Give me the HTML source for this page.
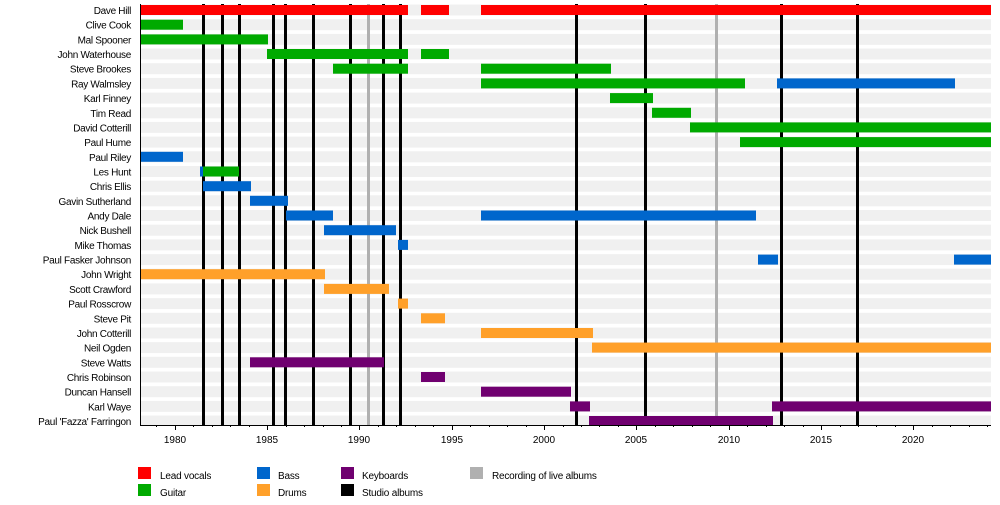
<!DOCTYPE html>
<html><head><meta charset="utf-8"><style>
html,body{margin:0;padding:0;background:#fff;width:1000px;height:505px;overflow:hidden}
svg{display:block;font-family:"Liberation Sans",sans-serif}
</style></head><body>
<svg width="1000" height="505" viewBox="0 0 1000 505" xmlns="http://www.w3.org/2000/svg">
<g fill="#f0f0f0">
<rect x="140" y="4.5" width="851" height="11"/><rect x="140" y="19.2" width="851" height="11"/><rect x="140" y="33.9" width="851" height="11"/><rect x="140" y="48.5" width="851" height="11"/><rect x="140" y="63.2" width="851" height="11"/><rect x="140" y="77.9" width="851" height="11"/><rect x="140" y="92.6" width="851" height="11"/><rect x="140" y="107.3" width="851" height="11"/><rect x="140" y="121.9" width="851" height="11"/><rect x="140" y="136.6" width="851" height="11"/><rect x="140" y="151.3" width="851" height="11"/><rect x="140" y="166" width="851" height="11"/><rect x="140" y="180.7" width="851" height="11"/><rect x="140" y="195.3" width="851" height="11"/><rect x="140" y="210" width="851" height="11"/><rect x="140" y="224.7" width="851" height="11"/><rect x="140" y="239.4" width="851" height="11"/><rect x="140" y="254.1" width="851" height="11"/><rect x="140" y="268.7" width="851" height="11"/><rect x="140" y="283.4" width="851" height="11"/><rect x="140" y="298.1" width="851" height="11"/><rect x="140" y="312.8" width="851" height="11"/><rect x="140" y="327.5" width="851" height="11"/><rect x="140" y="342.1" width="851" height="11"/><rect x="140" y="356.8" width="851" height="11"/><rect x="140" y="371.5" width="851" height="11"/><rect x="140" y="386.2" width="851" height="11"/><rect x="140" y="400.9" width="851" height="11"/><rect x="140" y="415.5" width="851" height="10"/>
</g>
<g stroke="#b0b0b0" stroke-width="3"><line x1="368.5" y1="4" x2="368.5" y2="425"/><line x1="716.5" y1="4" x2="716.5" y2="425"/></g>
<g stroke="#000" stroke-width="3">
<line x1="203.5" y1="4" x2="203.5" y2="425"/><line x1="222.5" y1="4" x2="222.5" y2="425"/><line x1="239.5" y1="4" x2="239.5" y2="425"/><line x1="273.5" y1="4" x2="273.5" y2="425"/><line x1="285.5" y1="4" x2="285.5" y2="425"/><line x1="313.5" y1="4" x2="313.5" y2="425"/><line x1="350.5" y1="4" x2="350.5" y2="425"/><line x1="383.5" y1="4" x2="383.5" y2="425"/><line x1="400.5" y1="4" x2="400.5" y2="425"/><line x1="576.5" y1="4" x2="576.5" y2="425"/><line x1="645.5" y1="4" x2="645.5" y2="425"/><line x1="781.5" y1="4" x2="781.5" y2="425"/><line x1="857.5" y1="4" x2="857.5" y2="425"/>
</g>
<g fill="#ff0000"><rect x="140" y="5" width="268" height="10"/><rect x="421" y="5" width="28" height="10"/><rect x="481" y="5" width="510" height="10"/></g>
<g fill="#00aa00">
<rect x="140" y="19.7" width="43" height="10"/>
<rect x="140" y="34.4" width="128" height="10"/>
<rect x="267" y="49" width="141" height="10"/><rect x="421" y="49" width="28" height="10"/>
<rect x="333" y="63.7" width="75" height="10"/><rect x="481" y="63.7" width="130" height="10"/>
<rect x="481" y="78.4" width="264" height="10"/>
<rect x="610" y="93.1" width="43" height="10"/>
<rect x="652" y="107.8" width="39" height="10"/>
<rect x="690" y="122.4" width="301" height="10"/>
<rect x="740" y="137.1" width="251" height="10"/>
<rect x="202" y="166.5" width="37" height="10"/>
</g>
<g fill="#0066cc">
<rect x="777" y="78.4" width="178" height="10"/>
<rect x="140" y="151.8" width="43" height="10"/>
<rect x="200" y="166.5" width="3" height="10"/>
<rect x="203" y="181.2" width="48" height="10"/>
<rect x="250" y="195.8" width="38" height="10"/>
<rect x="286" y="210.5" width="47" height="10"/><rect x="481" y="210.5" width="275" height="10"/>
<rect x="324" y="225.2" width="72" height="10"/>
<rect x="398" y="239.9" width="10" height="10"/>
<rect x="758" y="254.6" width="20" height="10"/><rect x="954" y="254.6" width="37" height="10"/>
</g>
<g fill="#ffa02a">
<rect x="140" y="269.2" width="185" height="10"/>
<rect x="324" y="283.9" width="65" height="10"/>
<rect x="398" y="298.6" width="10" height="10"/>
<rect x="421" y="313.3" width="24" height="10"/>
<rect x="481" y="328" width="112" height="10"/>
<rect x="592" y="342.6" width="399" height="10"/>
</g>
<g fill="#700070">
<rect x="250" y="357.3" width="134" height="10"/>
<rect x="421" y="372" width="24" height="10"/>
<rect x="481" y="386.7" width="90" height="10"/>
<rect x="570" y="401.4" width="20" height="10"/><rect x="772" y="401.4" width="219" height="10"/>
<rect x="589" y="416" width="184" height="10"/>
</g>
<g stroke="#000" stroke-width="1">
<line x1="140.5" y1="4" x2="140.5" y2="425.5"/><line x1="140" y1="425.5" x2="991" y2="425.5"/>
<path d="M175.5 425v5M267.5 425v5M359.5 425v5M452.5 425v5M544.5 425v5M636.5 425v5M729.5 425v5M821.5 425v5M913.5 425v5"/>
<path d="M156.5 425v2M193.5 425v2M212.5 425v2M230.5 425v2M249.5 425v2M286.5 425v2M304.5 425v2M323.5 425v2M341.5 425v2M378.5 425v2M396.5 425v2M415.5 425v2M433.5 425v2M470.5 425v2M489.5 425v2M507.5 425v2M526.5 425v2M563.5 425v2M581.5 425v2M599.5 425v2M618.5 425v2M655.5 425v2M673.5 425v2M692.5 425v2M710.5 425v2M747.5 425v2M766.5 425v2M784.5 425v2M803.5 425v2M840.5 425v2M858.5 425v2M876.5 425v2M895.5 425v2M932.5 425v2M950.5 425v2M969.5 425v2M987.5 425v2"/>
</g>
<g font-size="10" text-anchor="middle" fill="#000">
<text x="175" y="443">1980</text><text x="267" y="443">1985</text><text x="359" y="443">1990</text><text x="452" y="443">1995</text><text x="544" y="443">2000</text><text x="636" y="443">2005</text><text x="729" y="443">2010</text><text x="821" y="443">2015</text><text x="913" y="443">2020</text>
</g>
<g font-size="10" text-anchor="end" fill="#000" letter-spacing="-0.3">
<text x="131" y="14">Dave Hill</text><text x="131" y="28.7">Clive Cook</text><text x="131" y="43.4">Mal Spooner</text><text x="131" y="58">John Waterhouse</text><text x="131" y="72.7">Steve Brookes</text><text x="131" y="87.4">Ray Walmsley</text><text x="131" y="102.1">Karl Finney</text><text x="131" y="116.8">Tim Read</text><text x="131" y="131.4">David Cotterill</text><text x="131" y="146.1">Paul Hume</text><text x="131" y="160.8">Paul Riley</text><text x="131" y="175.5">Les Hunt</text><text x="131" y="190.2">Chris Ellis</text><text x="131" y="204.8">Gavin Sutherland</text><text x="131" y="219.5">Andy Dale</text><text x="131" y="234.2">Nick Bushell</text><text x="131" y="248.9">Mike Thomas</text><text x="131" y="263.6">Paul Fasker Johnson</text><text x="131" y="278.2">John Wright</text><text x="131" y="292.9">Scott Crawford</text><text x="131" y="307.6">Paul Rosscrow</text><text x="131" y="322.3">Steve Pit</text><text x="131" y="337">John Cotterill</text><text x="131" y="351.6">Neil Ogden</text><text x="131" y="366.3">Steve Watts</text><text x="131" y="381">Chris Robinson</text><text x="131" y="395.7">Duncan Hansell</text><text x="131" y="410.4">Karl Waye</text><text x="131" y="425">Paul 'Fazza' Farringon</text>
</g>
<rect x="138" y="467" width="13" height="12" fill="#ff0000"/>
<rect x="138" y="484" width="13" height="12" fill="#00aa00"/>
<rect x="257" y="467" width="13" height="12" fill="#0066cc"/>
<rect x="257" y="484" width="13" height="12" fill="#ffa02a"/>
<rect x="341" y="467" width="13" height="12" fill="#700070"/>
<rect x="341" y="484" width="13" height="12" fill="#000"/>
<rect x="470" y="467" width="13" height="12" fill="#b0b0b0"/>
<g font-size="10" fill="#000" letter-spacing="-0.2">
<text x="160" y="479">Lead vocals</text><text x="160" y="496">Guitar</text>
<text x="278" y="479">Bass</text><text x="278" y="496">Drums</text>
<text x="362" y="479">Keyboards</text><text x="362" y="496">Studio albums</text>
<text x="492" y="479">Recording of live albums</text>
</g>
</svg>
</body></html>
